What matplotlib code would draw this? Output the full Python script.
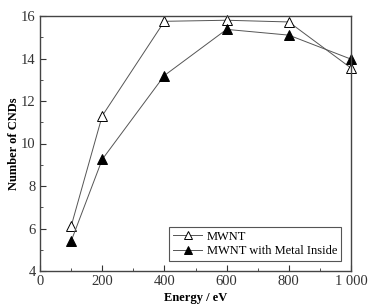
import matplotlib
matplotlib.use("Agg")
import matplotlib.pyplot as plt
from matplotlib.ticker import MultipleLocator, FixedLocator

plt.rcParams['font.family'] = ['Liberation Serif', 'DejaVu Serif']

# Data
energy = [100, 200, 400, 600, 800, 1000]
mwnt = [6.1, 11.3, 15.75, 15.8, 15.72, 13.55]
mwnt_metal = [5.4, 9.25, 13.2, 15.37, 15.1, 13.97]
x_ticks = [0, 200, 400, 600, 800, 1000]
x_tick_labels = ["0", "200", "400", "600", "800", "1 000"]

fig = plt.figure(figsize=(3.82, 3.07), dpi=100)
ax = fig.add_axes([40/382, 1 - 271/307, 311/382, 255/307])

ax.plot(energy, mwnt, color="#555555", lw=0.7, marker="^", ms=6.5,
        mfc="white", mec="black", mew=0.7, label="MWNT", clip_on=False)
ax.plot(energy, mwnt_metal, color="#555555", lw=0.7, marker="^", ms=6.5,
        mfc="black", mec="black", mew=0.7, label="MWNT with Metal Inside", clip_on=False)

ax.set_xlim(0, 1000)
ax.set_ylim(4, 16)
ax.xaxis.set_major_locator(FixedLocator(x_ticks))
ax.set_xticklabels(x_tick_labels)
ax.xaxis.set_minor_locator(MultipleLocator(100))
ax.yaxis.set_major_locator(MultipleLocator(2))
ax.yaxis.set_minor_locator(MultipleLocator(1))
ax.tick_params(which="both", direction="in", labelsize=10.5, colors="#333333")
ax.tick_params(which="major", length=4, pad=3)
ax.tick_params(which="minor", length=2)
for s in ax.spines.values():
    s.set_color("#444444")
    s.set_linewidth(1.0)

ax.set_xlabel("Energy / eV", fontweight="bold", fontsize=9, labelpad=3)
ax.set_ylabel("Number of CNDs", fontweight="bold", fontsize=9, labelpad=1)

leg = ax.legend(loc="lower right", fontsize=9, fancybox=False, framealpha=1,
                edgecolor="#555555", borderpad=0.3, handlelength=2.3,
                handletextpad=0.4, labelspacing=0.2, borderaxespad=0.8,
                markerscale=0.85)
leg.get_frame().set_linewidth(0.8)

fig.savefig("out.png", dpi=100)
